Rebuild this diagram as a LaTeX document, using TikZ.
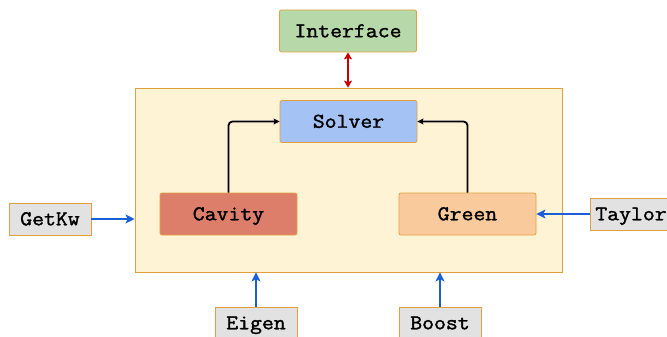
\documentclass[tikz,border=0pt]{standalone}
\usepackage{fontspec}
\newfontfamily\lblfont[FakeBold=1.6,FakeStretch=1.1]{Latin Modern Mono}
\usetikzlibrary{arrows.meta}
\definecolor{bord}{HTML}{E0A040}
\definecolor{contfill}{HTML}{FFF3D6}
\definecolor{ifill}{HTML}{B7D8A8}
\definecolor{sfill}{HTML}{A4C2F4}
\definecolor{cfill}{HTML}{DD7E6B}
\definecolor{gfill}{HTML}{F9CB9C}
\definecolor{lfill}{HTML}{E2E2E2}
\definecolor{bluearr}{HTML}{1A5FD6}
\definecolor{redarr}{HTML}{CC0000}
\tikzset{
  lbl/.style={font=\lblfont\fontsize{21}{24}\selectfont, text height=12.5pt, text depth=0pt},
  box/.style={lbl, draw=bord, line width=0.8pt, rounded corners=2pt, minimum width=137pt, minimum height=42pt, inner sep=0pt},
  lib/.style={lbl, draw=bord, line width=0.8pt, fill=lfill, minimum width=82pt, minimum height=32pt, inner sep=0pt},
  bluearrow/.style={draw=bluearr, line width=1.6pt, -{Stealth[length=9pt,width=9pt,inset=2pt]}},
  blackarrow/.style={draw=black, line width=1.8pt, rounded corners=4pt, -{Stealth[length=6pt,width=6pt,inset=1pt]}},
  redarrow/.style={draw=redarr, line width=1.5pt, {Stealth[length=7pt,width=8pt,inset=1.5pt]}-{Stealth[length=7pt,width=8pt,inset=1.5pt]}}
}
\begin{document}
\begin{tikzpicture}[x=1pt,y=-1pt]
\useasboundingbox (0,0) rectangle (667,337);
\node[draw=bord, fill=contfill, line width=0.8pt, minimum width=427pt, minimum height=184pt, inner sep=0pt] (cont) at (348.5,180) {};
\node[box, fill=ifill] (iface) at (348,31) {Interface};
\node[box, fill=sfill] (solver) at (348.5,121.5) {Solver};
\node[box, fill=cfill] (cavity) at (228.5,214) {Cavity};
\node[box, fill=gfill] (green) at (467.5,214) {Green};
\node[lib] (getkw) at (50,219) {GetKw};
\node[lib] (taylor) at (631,214) {Taylor};
\node[lib] (eigen) at (256,323) {Eigen};
\node[lib] (boost) at (440,323) {Boost};
\draw[redarrow] (iface.south) -- (cont.north -| iface.south);
\draw[blackarrow] (cavity.north) |- (solver.west);
\draw[blackarrow] (green.north) |- (solver.east);
\draw[bluearrow] (getkw.east) -- (getkw.east -| cont.west);
\draw[bluearrow] (taylor.west) -- (green.east);
\draw[bluearrow] (eigen.north) -- (eigen.north |- cont.south);
\draw[bluearrow] (boost.north) -- (boost.north |- cont.south);
\end{tikzpicture}
\end{document}
